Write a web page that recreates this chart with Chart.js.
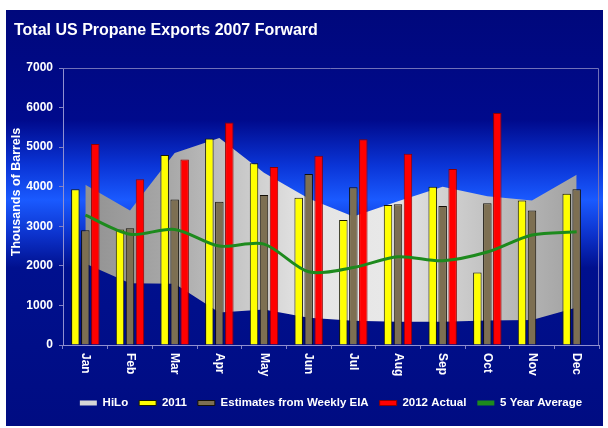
<!DOCTYPE html>
<html><head><meta charset="utf-8">
<style>html,body{margin:0;padding:0;background:#fff}</style>
<script src="https://cdn.jsdelivr.net/npm/chart.js@4.4.1/dist/chart.umd.min.js"></script>
</head><body>
<canvas id="c" width="608" height="428"></canvas>
<script>
// ---- data ----
const titleText = 'Total US Propane Exports 2007 Forward';
const yAxisTitle = 'Thousands of Barrels';
const months = ['Jan','Feb','Mar','Apr','May','Jun','Jul','Aug','Sep','Oct','Nov','Dec'];
const yTickMin = 0, yTickMax = 7000, yTickStep = 1000;
const hiLoHigh = [4050, 3400, 4850, 5230, 4350, 3700, 3250, 3630, 4000, 3760, 3650, 4300];
const hiLoLow  = [2060, 1560, 1550, 820, 900, 690, 610, 590, 590, 620, 630, 950];
const y2011    = [3935, 2920, 4800, 5220, 4590, 3720, 3160, 3540, 4000, 1830, 3650, 3820];
const estWeeklyEIA = [2900, 2950, 3680, 3620, 3790, 4320, 3985, 3560, 3510, 3580, 3400, 3935];
const actual2012 = [5080, 4190, 4690, 5620, 4500, 4780, 5200, 4830, 4450, 5860, null, null];
const fiveYearAvg = [3280, 2800, 2920, 2500, 2550, 1850, 1960, 2230, 2130, 2350, 2780, 2860];

const FONT = "'Liberation Sans', Arial, sans-serif";
Chart.defaults.font.family = FONT;

let hiLoGrad = null;
function hiLoFill(ctx) {
  const ca = ctx.chart.chartArea;
  if (!ca) return '#cccccc';
  if (!hiLoGrad) {
    const g = ctx.chart.ctx.createLinearGradient(ca.left, 0, ca.right, 0);
    g.addColorStop(0, '#8c8c8c');
    g.addColorStop(0.2, '#a8a8a8');
    g.addColorStop(0.45, '#e4e4e4');
    g.addColorStop(0.6, '#e8e8e8');
    g.addColorStop(0.8, '#c0c0c0');
    g.addColorStop(1, '#9a9a9a');
    hiLoGrad = g;
  }
  return hiLoGrad;
}

const bgPlugin = {
  id: 'bg',
  beforeDraw(chart) {
    const c = chart.ctx;
    c.save();
    c.fillStyle = '#ffffff';
    c.fillRect(0, 0, chart.width, chart.height);
    const g = c.createLinearGradient(0, 10, 0, 426);
    const s = y => (y - 10) / 416;
    g.addColorStop(0, '#00087c');
    g.addColorStop(s(120), '#000a8c');
    g.addColorStop(s(165), '#0a34d6');
    g.addColorStop(s(200), '#1a5aff');
    g.addColorStop(s(235), '#0c32cc');
    g.addColorStop(s(268), '#00108e');
    g.addColorStop(1, '#000c82');
    c.fillStyle = g;
    c.fillRect(6, 10, 597, 416);
    c.restore();
  },
  beforeDatasetsDraw(chart) {
    const {left, right, top, bottom} = chart.chartArea;
    const c = chart.ctx;
    c.save();
    c.strokeStyle = '#7070b8';
    c.lineWidth = 1;
    c.beginPath();
    c.moveTo(left, top + 0.5);
    c.lineTo(right - 0.5, top + 0.5);
    c.lineTo(right - 0.5, bottom);
    c.stroke();
    c.restore();
  },
  afterDraw(chart) {
    const c = chart.ctx;
    const xs = chart.scales.x;
    c.save();
    c.fillStyle = '#ffffff';
    c.font = 'bold 12px ' + FONT;
    c.textAlign = 'left';
    c.textBaseline = 'middle';
    months.forEach((m, i) => {
      const x = xs.getPixelForValue(i);
      c.save();
      c.translate(x, chart.chartArea.bottom + 8);
      c.rotate(Math.PI / 2);
      c.fillText(m, 0, 0);
      c.restore();
    });
    c.font = 'bold 12.5px ' + FONT;
    c.textAlign = 'center';
    c.save();
    c.translate(17, 192);
    c.rotate(-Math.PI / 2);
    c.fillText(yAxisTitle, 0, 0);
    c.restore();
    c.restore();
  }
};

const legendColors = {
  1: {fillStyle: '#d6d6d6', strokeStyle: '#d6d6d6', lineWidth: 0},
  5: {fillStyle: '#1d8a1d', strokeStyle: '#1d8a1d', lineWidth: 0}
};

const barCommon = {type: 'bar', categoryPercentage: 0.67, barPercentage: 0.85, borderWidth: 1, order: 5};

new Chart(document.getElementById('c'), {
  type: 'bar',
  data: {
    labels: months,
    datasets: [
      {type: 'line', label: 'Lo', data: hiLoLow, borderWidth: 0, borderColor: 'rgba(0,0,0,0)', pointRadius: 0, fill: false, order: 10},
      {type: 'line', label: 'HiLo', data: hiLoHigh, borderWidth: 0, borderColor: 'rgba(0,0,0,0)', pointRadius: 0, fill: '-1', backgroundColor: hiLoFill, tension: 0, order: 9},
      Object.assign({label: '2011', data: y2011, backgroundColor: '#ffff00', borderColor: '#1a1a00'}, barCommon),
      Object.assign({label: 'Estimates from Weekly EIA', data: estWeeklyEIA, backgroundColor: '#7d6f52', borderColor: '#141008'}, barCommon),
      Object.assign({label: '2012 Actual', data: actual2012, backgroundColor: '#ff0000', borderColor: '#900000'}, barCommon),
      {type: 'line', label: '5 Year Average', data: fiveYearAvg, borderColor: '#1d8a1d', backgroundColor: '#1d8a1d', borderWidth: 3, pointRadius: 0, fill: false, tension: 0.3, order: 1}
    ]
  },
  options: {
    responsive: false,
    devicePixelRatio: 1,
    animation: false,
    layout: {padding: {left: 14, right: 9, top: 10, bottom: 9.25}},
    plugins: {
      tooltip: {enabled: false},
      title: {
        display: true, text: titleText, align: 'start', color: '#ffffff',
        font: {size: 16, weight: 'bold'}, padding: {top: 11.4, bottom: 27.4}
      },
      legend: {
        position: 'bottom',
        fullSize: false,
        labels: {
          color: '#ffffff',
          font: {size: 11.5, weight: 'bold'},
          boxWidth: 17,
          boxHeight: 5,
          padding: 11,
          filter: item => item.datasetIndex !== 0,
          sort: (a, b) => a.datasetIndex - b.datasetIndex,
          generateLabels(chart) {
            const items = Chart.defaults.plugins.legend.labels.generateLabels(chart);
            items.forEach(it => { if (legendColors[it.datasetIndex]) Object.assign(it, legendColors[it.datasetIndex]); });
            return items;
          }
        }
      }
    },
    scales: {
      x: {
        grid: {display: true, drawOnChartArea: false, drawTicks: true, tickLength: 4, color: '#8080c4', offset: true},
        border: {display: true, color: '#9090d0', width: 1},
        ticks: {display: false},
        afterFit(scale) { scale.height = 41.25; }
      },
      y: {
        min: yTickMin, max: yTickMax,
        grid: {display: true, drawOnChartArea: false, drawTicks: true, tickLength: 4, color: '#8080c4'},
        border: {display: true, color: '#9090d0', width: 1},
        ticks: {stepSize: yTickStep, color: '#ffffff', font: {size: 12, weight: 'bold'}, padding: 6, callback: v => String(v)},
        afterFit(scale) { scale.width = 49; }
      }
    }
  },
  plugins: [bgPlugin]
});
</script>
</body></html>
